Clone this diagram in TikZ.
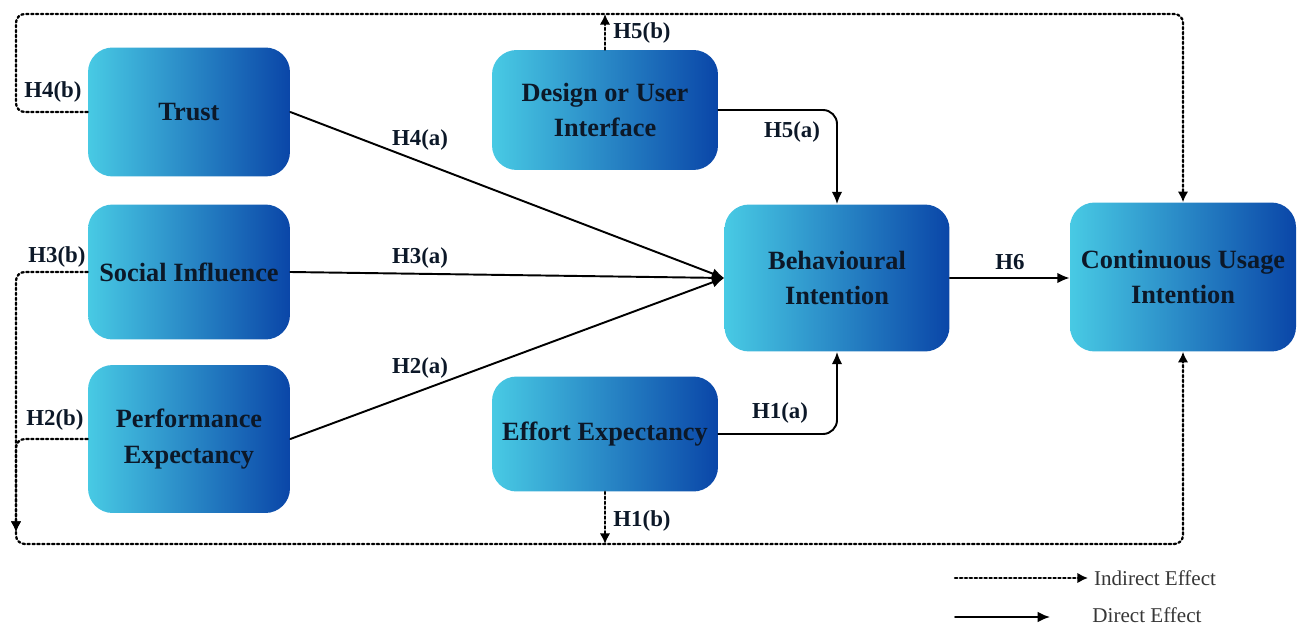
\documentclass[tikz,border=0pt]{standalone}
\usepackage{fontspec}
\setmainfont{Liberation Serif}
\usetikzlibrary{arrows.meta}
\definecolor{lightcyan}{RGB}{72,202,228}
\definecolor{deepblue}{RGB}{10,70,168}
\definecolor{inktext}{RGB}{12,24,40}
\definecolor{legendgray}{RGB}{55,55,55}

\begin{document}
\begin{tikzpicture}[line cap=round,line join=round, x=0.02cm, y=-0.02cm,
  box/.style={rounded corners=14pt, left color=lightcyan, right color=deepblue, text=inktext, font=\fontsize{15}{20}\selectfont\bfseries, align=center, inner sep=2pt},
  direct/.style={line width=1.1pt, -{Latex[length=7pt, width=6pt]}},
  indirect/.style={line width=1.3pt, dash pattern=on 1.3pt off 1.5pt, rounded corners=5pt, -{Latex[length=6pt, width=6pt]}},
  hyp/.style={font=\fontsize{13}{15}\selectfont\bfseries, text=inktext},
  legendtext/.style={font=\fontsize{12}{14}\selectfont, text=legendgray, inner sep=1pt}]
\useasboundingbox (0,0) rectangle (1300,628);
\node[box, minimum width=4.04cm, minimum height=2.58cm] (trust) at (189,112) {Trust};
\node[box, minimum width=4.04cm, minimum height=2.70cm] (social) at (189,272) {Social Influence};
\node[box, minimum width=4.04cm, minimum height=2.96cm] (perf) at (189,439) {Performance\\Expectancy};
\node[box, minimum width=4.52cm, minimum height=2.40cm] (design) at (605,110) {Design or User\\Interface};
\node[box, minimum width=4.52cm, minimum height=2.30cm] (effort) at (605,434) {Effort Expectancy};
\node[box, minimum width=4.50cm, minimum height=2.94cm] (bi) at (837,278) {Behavioural\\Intention};
\node[box, minimum width=4.52cm, minimum height=2.98cm] (cui) at (1183,277) {Continuous Usage\\Intention};
\coordinate (tl) at (16,14);
\coordinate (blarr) at (16,532);
\coordinate (bl) at (16,544);
\draw [direct] (trust.east) -- (bi.west);
\draw [direct] (social.east) -- (bi.west);
\draw [direct] (perf.east) -- (bi.west);
\draw [direct, rounded corners=8pt] (design.east) -| (bi.north);
\draw [direct, rounded corners=8pt] (effort.east) -| (bi.south);
\draw [direct] (bi.east) -- (bi.east -| cui.west);
\draw [indirect] (trust.west) -| (tl) -| (cui.north);
\draw [indirect] (design.north) -- (design.north |- tl);
\draw [indirect] (social.west) -| (blarr);
\draw [indirect] (perf.west) -| (blarr);
\draw [indirect] (blarr) -- (bl) -| (cui.south);
\draw [indirect] (effort.south) -- (effort.south |- bl);
\node[hyp] (h4b) at (53,92) {H4(b)};
\node[hyp] (h5b) at (642,33) {H5(b)};
\node[hyp] (h3b) at (57,257) {H3(b)};
\node[hyp] (h2b) at (55,420) {H2(b)};
\node[hyp] (h1b) at (642,521) {H1(b)};
\node[hyp] (h4a) at (420,140) {H4(a)};
\node[hyp] (h3a) at (420,258) {H3(a)};
\node[hyp] (h2a) at (420,368) {H2(a)};
\node[hyp] (h5a) at (792,132) {H5(a)};
\node[hyp] (h1a) at (780,413) {H1(a)};
\node[hyp] (h6) at (1010,262) {H6};
\coordinate (ind1) at (955,578);
\coordinate (ind2) at (1088,578);
\coordinate (dir1) at (955,617);
\coordinate (dir2) at (1050,617);
\draw [indirect] (ind1) -- (ind2);
\draw [direct] (dir1) -- (dir2);
\node[legendtext] (indlabel) at (1155,578) {Indirect Effect};
\node[legendtext] (dirlabel) at (1147,615) {Direct Effect};
\end{tikzpicture}
\end{document}
